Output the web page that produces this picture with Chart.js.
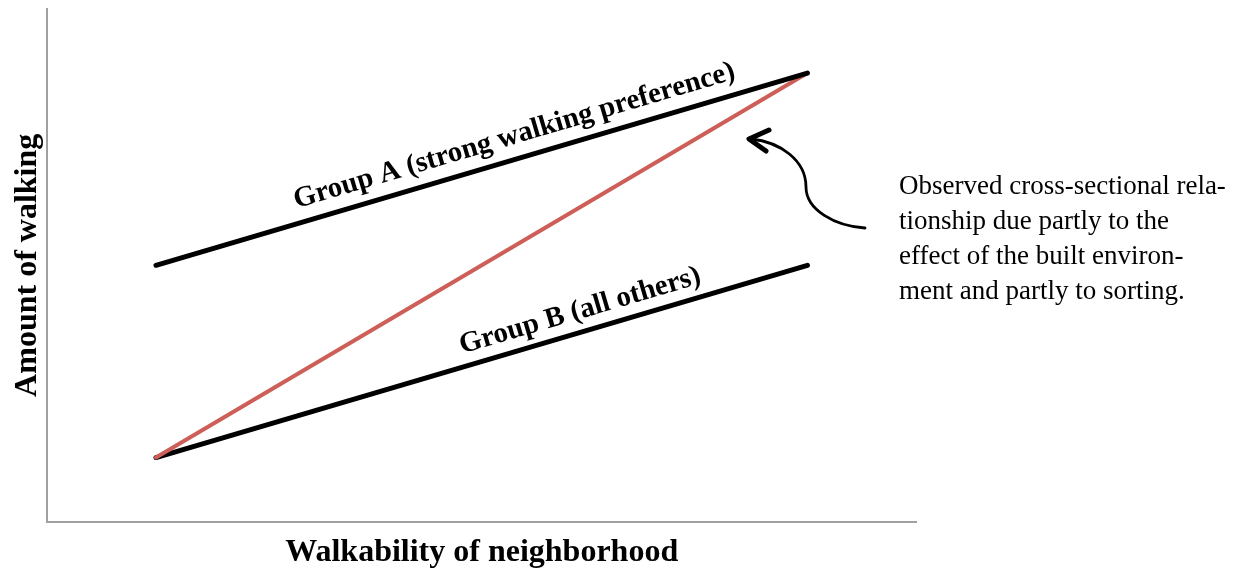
<!DOCTYPE html>
<html>
<head>
<meta charset="utf-8">
<script src="https://cdn.jsdelivr.net/npm/chart.js@4"></script>
<style>
  html, body { margin: 0; padding: 0; background: #ffffff; }
  #wrap { width: 1241px; height: 576px; }
</style>
</head>
<body>
<div id="wrap"><canvas id="myChart" width="1241" height="576"></canvas></div>
<script>
// walkability (x) at the two ends of each line
const walkability = [1.25, 8.75];
// amount of walking (y) for each series
const groupA = [5, 8.75];
const groupB = [1.25, 5];
const observed = [1.25, 8.75];
const seriesNames = ['Group A (strong walking preference)', 'Group B (all others)', 'Observed'];
const noteLines = [
  'Observed cross-sectional rela-',
  'tionship due partly to the',
  'effect of the built environ-',
  'ment and partly to sorting.'
];

const serif = '"Liberation Serif", "DejaVu Serif", serif';

function pts(ys) {
  return walkability.map((x, i) => ({ x: x, y: ys[i] }));
}

// labels sitting on the black lines, plus the note and curved arrow
const annotations = {
  id: 'annotations',
  afterDatasetsDraw: (chart) => {
    const ctx = chart.ctx;
    const xs = chart.scales.x;
    const ys = chart.scales.y;

    function lineLabel(text, vals, t, offset) {
      const x0 = xs.getPixelForValue(walkability[0]);
      const y0 = ys.getPixelForValue(vals[0]);
      const x1 = xs.getPixelForValue(walkability[1]);
      const y1 = ys.getPixelForValue(vals[1]);
      const ang = Math.atan2(y1 - y0, x1 - x0);
      ctx.save();
      ctx.translate(x0 + (x1 - x0) * t, y0 + (y1 - y0) * t);
      ctx.rotate(ang);
      ctx.font = 'bold 29px ' + serif;
      ctx.fillStyle = '#000';
      ctx.textAlign = 'center';
      ctx.textBaseline = 'alphabetic';
      ctx.fillText(text, 0, -offset);
      ctx.restore();
    }
    lineLabel(seriesNames[0], groupA, 0.56, 15);
    lineLabel(seriesNames[1], groupB, 0.66, 13);

    // note text
    ctx.save();
    ctx.font = '27px ' + serif;
    ctx.fillStyle = '#000';
    ctx.textAlign = 'left';
    ctx.textBaseline = 'alphabetic';
    noteLines.forEach((s, i) => ctx.fillText(s, 899, 194 + i * 35));
    ctx.restore();

    // curved arrow
    ctx.save();
    ctx.strokeStyle = '#000';
    ctx.lineWidth = 2.8;
    ctx.lineCap = 'round';
    ctx.beginPath();
    ctx.moveTo(865, 228);
    ctx.bezierCurveTo(835, 226, 806, 210, 806, 187);
    ctx.bezierCurveTo(806, 160, 780, 142, 751, 139);
    ctx.stroke();
    ctx.lineWidth = 5;
    ctx.lineJoin = 'round';
    ctx.beginPath();
    ctx.moveTo(769, 130);
    ctx.lineTo(749, 139);
    ctx.lineTo(766, 151);
    ctx.stroke();
    ctx.restore();
  }
};

const ctx = document.getElementById('myChart').getContext('2d');

new Chart(ctx, {
  type: 'line',
  data: {
    datasets: [
      {
        label: seriesNames[0],
        data: pts(groupA),
        borderColor: '#000000',
        borderWidth: 5,
        borderCapStyle: 'round',
        pointRadius: 0,
        order: 0
      },
      {
        label: seriesNames[2],
        data: pts(observed),
        borderColor: '#cd5f58',
        borderWidth: 4,
        borderCapStyle: 'round',
        pointRadius: 0,
        order: 1
      },
      {
        label: seriesNames[1],
        data: pts(groupB),
        borderColor: '#000000',
        borderWidth: 5,
        borderCapStyle: 'round',
        pointRadius: 0,
        order: 2
      }
    ]
  },
  options: {
    responsive: false,
    animation: false,
    layout: {
      padding: { left: 3, right: 325, top: 9, bottom: 4 }
    },
    plugins: {
      legend: { display: false },
      tooltip: { enabled: false }
    },
    scales: {
      x: {
        type: 'linear',
        min: 0,
        max: 10,
        grid: { display: false, drawTicks: false },
        border: { display: true, color: '#a0a0a0', width: 2 },
        ticks: { display: false },
        title: {
          display: true,
          text: 'Walkability of neighborhood',
          color: '#000',
          font: { family: serif, size: 32, weight: 'bold' },
          padding: { top: 12, bottom: 0 }
        }
      },
      y: {
        type: 'linear',
        min: 0,
        max: 10,
        grid: { display: false, drawTicks: false },
        border: { display: true, color: '#a0a0a0', width: 2 },
        ticks: { display: false },
        title: {
          display: true,
          text: 'Amount of walking',
          color: '#000',
          font: { family: serif, size: 32, weight: 'bold' },
          padding: { top: 6, bottom: 0 }
        }
      }
    }
  },
  plugins: [annotations]
});
</script>
</body>
</html>
